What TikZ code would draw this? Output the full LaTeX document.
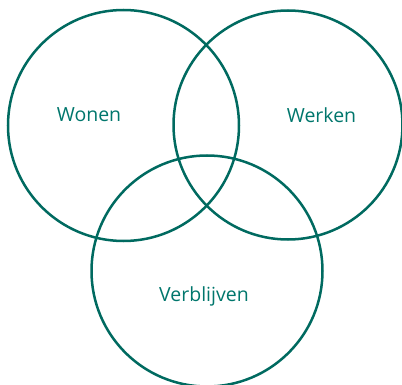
\documentclass[tikz,border=0pt]{standalone}
\usepackage{fontspec}
\setmainfont{Open Sans}
\definecolor{ring}{RGB}{0,106,96}
\definecolor{txt}{RGB}{0,118,108}
\begin{document}
\begin{tikzpicture}[x=1pt,y=-1pt,
  ring/.style={draw=ring,line width=2.5pt},
  lbl/.style={text=txt,font=\fontsize{19.5}{22}\selectfont,inner sep=0pt}]
\useasboundingbox (0,0) rectangle (402,385);
\draw[ring] (123.5,125.5) circle[radius=115.5];
\draw[ring] (288,125) circle[radius=114.5];
\draw[ring] (207,271) circle[radius=115.5];
\node[lbl] (wonen) at (89,115) {Wonen};
\node[lbl] (werken) at (321.5,115) {Werken};
\node[lbl] (verblijven) at (204,296) {Verblijven};
\end{tikzpicture}
\end{document}
